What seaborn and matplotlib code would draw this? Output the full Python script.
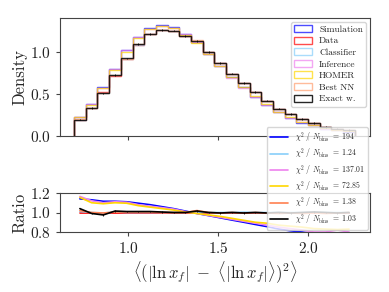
import numpy as np
import pandas as pd
import matplotlib
matplotlib.use("Agg")
import matplotlib.pyplot as plt
from matplotlib.patches import Patch
import seaborn as sns

# ---- data ----
bin_edges = [0.700, 0.765, 0.830, 0.895, 0.960, 1.025, 1.090, 1.155, 1.220, 1.285,
             1.350, 1.415, 1.480, 1.545, 1.610, 1.675, 1.740, 1.805, 1.870, 1.935,
             2.000, 2.065, 2.130, 2.195, 2.260]
bin_centers = [0.7325, 0.7975, 0.8625, 0.9275, 0.9925, 1.0575, 1.1225, 1.1875, 1.2525, 1.3175,
               1.3825, 1.4475, 1.5125, 1.5775, 1.6425, 1.7075, 1.7725, 1.8375, 1.9025, 1.9675,
               2.0325, 2.0975, 2.1625, 2.2275]

dens_data = [0.192, 0.335, 0.52, 0.715, 0.915, 1.085, 1.205, 1.255, 1.25, 1.19, 1.115, 1.0,
             0.87, 0.74, 0.63, 0.52, 0.42, 0.325, 0.26, 0.2, 0.155, 0.107, 0.088, 0.068]
dens_exact = [0.195, 0.33, 0.505, 0.72, 0.92, 1.09, 1.21, 1.258, 1.25, 1.19, 1.13, 1.0,
              0.87, 0.74, 0.63, 0.52, 0.42, 0.325, 0.26, 0.2, 0.155, 0.107, 0.088, 0.068]
dens_classifier = [0.195, 0.335, 0.515, 0.72, 0.915, 1.085, 1.205, 1.255, 1.25, 1.19, 1.12, 1.0,
                   0.87, 0.74, 0.632, 0.52, 0.42, 0.326, 0.26, 0.2, 0.156, 0.107, 0.088, 0.068]
dens_bestnn = [0.196, 0.335, 0.515, 0.72, 0.917, 1.087, 1.207, 1.256, 1.25, 1.19, 1.135, 1.0,
               0.868, 0.74, 0.628, 0.52, 0.418, 0.325, 0.26, 0.2, 0.155, 0.107, 0.088, 0.068]
dens_simulation = [0.22, 0.38, 0.58, 0.80, 1.02, 1.18, 1.28, 1.318, 1.29, 1.21, 1.11, 0.97,
                   0.83, 0.695, 0.58, 0.46, 0.37, 0.28, 0.215, 0.16, 0.127, 0.088, 0.068, 0.048]
dens_inference = [0.223, 0.375, 0.575, 0.795, 1.015, 1.17, 1.27, 1.31, 1.285, 1.205, 1.11, 0.97,
                  0.83, 0.69, 0.575, 0.465, 0.37, 0.28, 0.218, 0.165, 0.125, 0.086, 0.072, 0.055]
dens_homer = [0.222, 0.37, 0.57, 0.785, 1.0, 1.16, 1.27, 1.305, 1.28, 1.195, 1.105, 0.975,
              0.835, 0.695, 0.58, 0.47, 0.375, 0.285, 0.225, 0.17, 0.13, 0.09, 0.074, 0.057]

ratio_x = bin_centers
ratio_data = [1.0] * 24
ratio_simulation = [1.14, 1.13, 1.115, 1.115, 1.11, 1.095, 1.08, 1.06, 1.04, 1.015, 0.99, 0.968,
                    0.945, 0.922, 0.90, 0.877, 0.855, 0.83, 0.812, 0.80, 0.785, 0.77, 0.76, 0.75]
ratio_classifier = [1.01, 1.0, 0.995, 1.005, 1.0, 1.0, 1.0, 1.0, 1.0, 1.0, 1.005, 1.0,
                    1.0, 1.0, 1.003, 1.0, 1.0, 1.003, 1.0, 1.0, 1.005, 1.0, 1.0, 1.0]
ratio_inference = [1.165, 1.12, 1.10, 1.11, 1.105, 1.08, 1.065, 1.05, 1.035, 1.01, 0.99, 0.97,
                   0.95, 0.93, 0.91, 0.89, 0.87, 0.85, 0.835, 0.82, 0.80, 0.80, 0.82, 0.80]
ratio_homer = [1.155, 1.10, 1.09, 1.10, 1.095, 1.07, 1.055, 1.04, 1.025, 1.005, 0.99, 0.975,
               0.96, 0.94, 0.92, 0.90, 0.89, 0.87, 0.86, 0.85, 0.835, 0.83, 0.825, 0.83]
ratio_bestnn = [1.02, 1.0, 0.995, 1.005, 1.005, 1.005, 1.005, 1.0, 1.0, 1.0, 1.02, 1.0,
                0.995, 1.0, 0.995, 1.0, 0.995, 0.99, 0.995, 0.99, 0.995, 0.99, 0.995, 1.0]
ratio_exact = [1.04, 0.99, 0.975, 1.015, 1.01, 1.01, 1.01, 1.005, 1.0, 1.0, 1.015, 1.0,
               0.995, 1.0, 0.995, 1.0, 0.995, 1.0, 0.995, 1.0, 1.005, 1.0, 0.995, 1.0]

hist_labels = ["Simulation", "Data", "Classifier", "Inference", "HOMER", "Best NN", "Exact w."]
hist_values = [dens_simulation, dens_data, dens_classifier, dens_inference, dens_homer,
               dens_bestnn, dens_exact]
hist_colors = ["blue", "red", "#87cefa", "violet", "gold", "#ff9f70", "black"]

chi2_labels = ["194", "1.24", "137.01", "72.85", "1.38", "1.03"]
ratio_values = [ratio_simulation, ratio_classifier, ratio_inference, ratio_homer,
                ratio_bestnn, ratio_exact]
ratio_colors = ["blue", "#87cefa", "violet", "gold", "#ff8050", "black"]

# ---- style ----
sns.set_style("ticks")
plt.rcParams["font.family"] = ["cmr10", "DejaVu Serif"]
plt.rcParams["mathtext.fontset"] = "cm"
plt.rcParams["axes.formatter.use_mathtext"] = True
plt.rcParams["axes.unicode_minus"] = False
plt.rcParams["axes.edgecolor"] = "#444444"
plt.rcParams["xtick.color"] = "#444444"
plt.rcParams["ytick.color"] = "#444444"
plt.rcParams["xtick.labelcolor"] = "#222222"
plt.rcParams["ytick.labelcolor"] = "#222222"

fig = plt.figure(figsize=(3.89, 2.92), dpi=100)
ax1 = fig.add_axes([60 / 389, 1 - 136 / 292, 310 / 389, 118 / 292])
ax2 = fig.add_axes([60 / 389, 1 - 232 / 292, 310 / 389, 39 / 292], sharex=ax1)

handles = []
for vals, lab, col in zip(hist_values, hist_labels, hist_colors):
    alpha = 0.7 if col != "black" else 0.85
    ax1.stairs(vals, bin_edges, color=col, lw=1.0, alpha=alpha)
    handles.append(Patch(facecolor="none", edgecolor=col, alpha=alpha, lw=1.0, label=lab))

ax1.errorbar(bin_centers, dens_exact, yerr=0.01, fmt="none", ecolor="black", lw=0.6)

ax1.set_xlim(0.622, 2.344)
ax1.set_ylim(0, 1.40)
ax1.set_yticks([0.0, 0.5, 1.0])
ax1.set_xticks([1.0, 1.5, 2.0])
ax1.tick_params(labelbottom=False, labelsize=11, length=3)
ax1.set_ylabel("Density", fontsize=12, labelpad=2)
ax1.legend(handles=handles, loc="upper right", fontsize=6.8, handlelength=1.9,
           handleheight=0.75, handletextpad=0.7, labelspacing=0.3, borderpad=0.35,
           borderaxespad=0.4, frameon=True)

sns.lineplot(x=ratio_x, y=ratio_data, color="red", lw=1.2, ax=ax2, legend=False)
for vals, lab, col in zip(ratio_values, chi2_labels, ratio_colors):
    sns.lineplot(x=ratio_x, y=vals, color=col, lw=1.2, ax=ax2,
                 label=r"$\chi^2\ /\ N_{\rm bins}\ =\ " + lab + "$")
ax2.errorbar(ratio_x, ratio_exact, yerr=0.008, fmt="none", ecolor="black", lw=0.6)

ax2.set_ylim(0.8, 1.2)
ax2.set_yticks([0.8, 1.0, 1.2])
ax2.set_xticks([1.0, 1.5, 2.0])
ax2.tick_params(labelsize=11, length=3)
ax2.set_ylabel("Ratio", fontsize=12, labelpad=2)
ax2.set_xlabel(r"$\langle(|\ln x_f|\ -\ \langle|\ln x_f|\rangle)^2\rangle$", fontsize=12, labelpad=2)
ax2.legend(loc="lower right", fontsize=5.6, handlelength=2.3, labelspacing=0.2,
           handletextpad=0.9, borderpad=0.4, borderaxespad=0.3, frameon=True)

fig.savefig("out.png", dpi=100)
